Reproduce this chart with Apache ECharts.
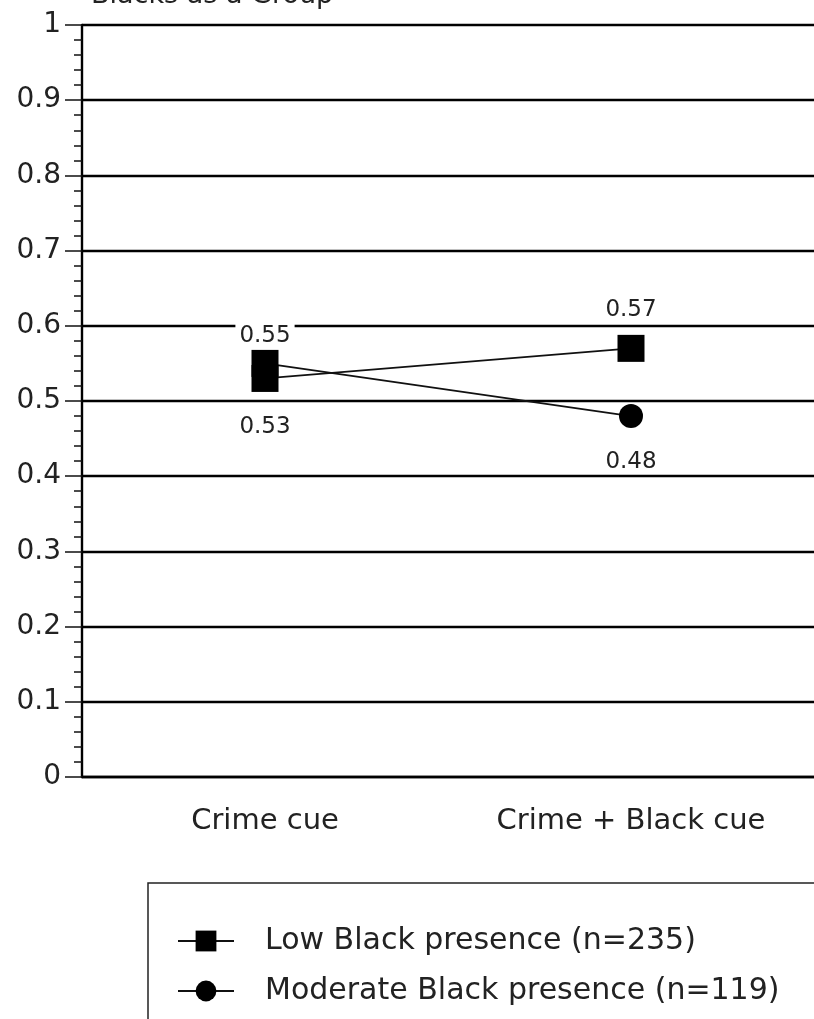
<!DOCTYPE html>
<html><head><meta charset="utf-8">
<script src="https://cdn.jsdelivr.net/npm/echarts@6/dist/echarts.min.js"></script>
<style>html,body{margin:0;padding:0;background:#fff}#c{width:814px;height:1019px}</style>
</head><body><div id="c"></div>
<script>
const categories = ['Crime cue', 'Crime + Black cue'];
const lowValues = [0.53, 0.57];
const moderateValues = [0.55, 0.48];
const seriesNames = ['Low Black presence (n=235)', 'Moderate Black presence (n=119)'];
const yTicks = [0, 0.1, 0.2, 0.3, 0.4, 0.5, 0.6, 0.7, 0.8, 0.9, 1];

const chart = echarts.init(document.getElementById('c'));
const font = 'DejaVu Sans, Liberation Sans, sans-serif';
const lblBase = {show: true, color: '#222', fontSize: 23, fontFamily: font, backgroundColor: '#fff'};

chart.setOption({
  animation: false,
  title: {text: 'Blacks as a Group', left: 86, top: -23, textStyle: {fontSize: 27, fontWeight: 'normal', color: '#222', fontFamily: font}},
  grid: {left: 82, top: 25, width: 742, height: 752, containLabel: false},
  xAxis: {
    type: 'category', data: categories, boundaryGap: true,
    axisLine: {lineStyle: {color: '#000', width: 2.4}},
    axisTick: {alignWithLabel: true, length: 18, lineStyle: {color: '#111', width: 1.5}},
    axisLabel: {color: '#222', fontSize: 29, fontFamily: font, margin: 30}
  },
  yAxis: {
    type: 'value', min: 0, max: 1, interval: 0.1,
    axisLine: {show: true, lineStyle: {color: '#000', width: 2.4}},
    axisTick: {show: true, length: 17, lineStyle: {color: '#111', width: 1.5}},
    minorTick: {show: true, splitNumber: 5, length: 8, lineStyle: {color: '#111', width: 1.5}},
    splitLine: {show: true, lineStyle: {color: '#000', width: 2.4}},
    axisLabel: {color: '#222', fontSize: 28, fontFamily: font, margin: 21,
      formatter: v => String(Math.round(v * 10) / 10)}
  },
  legend: {
    orient: 'vertical', left: 172, top: 921, itemGap: 20, itemWidth: 56, itemHeight: 26,
    textStyle: {color: '#222', fontSize: 30, fontFamily: font, padding: [0, 0, 0, 26]},
    data: seriesNames
  },
  graphic: [{type: 'rect', shape: {x: 148, y: 883, width: 720, height: 200}, style: {fill: 'none', stroke: '#222', lineWidth: 1.5}}],
  series: [
    {
      name: seriesNames[1], type: 'line', z: 2,
      symbol: 'circle', symbolSize: 24,
      lineStyle: {color: '#111', width: 1.8}, itemStyle: {color: '#000'},
      data: [
        {value: moderateValues[0], symbol: 'rect', symbolSize: 27, label: Object.assign({}, lblBase, {position: 'top', distance: 1, padding: [7, 4, 1, 4]})},
        {value: moderateValues[1], label: Object.assign({}, lblBase, {position: 'bottom', distance: 21, padding: [1, 4, 1, 4]})}
      ]
    },
    {
      name: seriesNames[0], type: 'line', z: 3,
      symbol: 'rect', symbolSize: 27,
      lineStyle: {color: '#111', width: 1.8}, itemStyle: {color: '#000'},
      data: [
        {value: lowValues[0], label: Object.assign({}, lblBase, {position: 'bottom', distance: 23, padding: [1, 4, 1, 4]})},
        {value: lowValues[1], label: Object.assign({}, lblBase, {position: 'top', distance: 12, padding: [4, 4, 1, 4]})}
      ]
    }
  ]
});
</script></body></html>
